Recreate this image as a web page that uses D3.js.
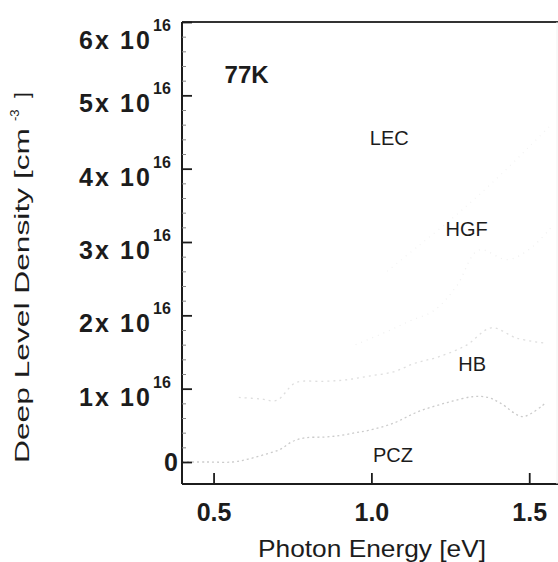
<!DOCTYPE html>
<html><head><meta charset="utf-8">
<script src="https://cdn.jsdelivr.net/npm/d3@7"></script>
<style>
body{margin:0;background:#fff}
text{font-family:"Liberation Sans",Arial,Helvetica,sans-serif;fill:#1c1c1c}
</style>
</head><body>
<svg id="chart" width="558" height="562"></svg>
<script>
// ---- data ----
const xTickValues = [0.5, 1.0, 1.5];
const xTickLabels = ["0.5", "1.0", "1.5"];
const yTickValues = [0, 1, 2, 3, 4, 5, 6];           // units of 10^16 cm^-3
const yTickMantissa = ["0", "1x 10", "2x 10", "3x 10", "4x 10", "5x 10", "6x 10"];
const yTickExponent = ["", "16", "16", "16", "16", "16", "16"];
const seriesNames = ["LEC", "HGF", "HB", "PCZ"];
const pczX = [0.40, 0.48, 0.56, 0.61, 0.66, 0.71, 0.75, 0.79, 0.85, 0.90, 0.95, 0.99, 1.07, 1.15, 1.24, 1.32, 1.37, 1.41, 1.48, 1.55];
const pczY = [0.00, 0.00, 0.00, 0.04, 0.10, 0.17, 0.28, 0.33, 0.34, 0.36, 0.40, 0.43, 0.53, 0.69, 0.81, 0.89, 0.88, 0.80, 0.62, 0.80];
const hbX = [0.58, 0.65, 0.70, 0.76, 0.85, 0.92, 0.99, 1.07, 1.14, 1.21, 1.30, 1.38, 1.46, 1.55];
const hbY = [0.88, 0.86, 0.84, 1.08, 1.10, 1.12, 1.17, 1.23, 1.35, 1.43, 1.59, 1.83, 1.69, 1.62];
const hgfX = [0.95, 1.05, 1.12, 1.20, 1.27, 1.34, 1.43, 1.50, 1.57];
const hgfY = [1.60, 1.78, 1.92, 2.07, 2.40, 2.89, 2.76, 2.90, 3.20];
const lecX = [1.05, 1.15, 1.25, 1.33, 1.42, 1.50, 1.57];
const lecY = [2.60, 2.95, 3.30, 3.60, 3.96, 4.30, 4.60];
const labelText = ["77K", "LEC", "HGF", "HB", "PCZ"];
const labelX = [0.535, 0.995, 1.235, 1.275, 1.005];
const labelY = [5.17, 4.32, 3.08, 1.24, 0.0];

// ---- layout ----
const svg = d3.select("#chart");
const x = d3.scaleLinear().domain([0.4, 1.588]).range([182, 557]);
const y = d3.scaleLinear().domain([-0.3, 6]).range([484, 22]);
const ink = "#1c1c1c";

// curves (very faint in the reference scan)
const series = [
  {name: "LEC", xs: lecX, ys: lecY, color: "#f3f3f3", dash: "1,5"},
  {name: "HGF", xs: hgfX, ys: hgfY, color: "#f0f0f0", dash: "1,5"},
  {name: "HB",  xs: hbX,  ys: hbY,  color: "#dedede", dash: "2,4"},
  {name: "PCZ", xs: pczX, ys: pczY, color: "#cbcbcb", dash: "2,3"}
];
const line = d3.line().x(d => x(d[0])).y(d => y(d[1])).curve(d3.curveCatmullRom);
series.forEach(s => {
  svg.append("path")
    .datum(s.xs.map((v, i) => [v, s.ys[i]]))
    .attr("d", line)
    .attr("fill", "none")
    .attr("stroke", s.color)
    .attr("stroke-width", 1.3)
    .attr("stroke-dasharray", s.dash);
});

// frame
svg.append("line").attr("x1", x(0.4)).attr("x2", 558).attr("y1", y(6)).attr("y2", y(6))
  .attr("stroke", "#333").attr("stroke-width", 1.8);
svg.append("line").attr("x1", x(0.4)).attr("x2", 558).attr("y1", y(-0.3)).attr("y2", y(-0.3))
  .attr("stroke", ink).attr("stroke-width", 2);
svg.append("line").attr("x1", x(0.4)).attr("x2", x(0.4)).attr("y1", y(6)).attr("y2", y(-0.3))
  .attr("stroke", ink).attr("stroke-width", 2);
svg.append("line").attr("x1", x(1.588)).attr("x2", x(1.588)).attr("y1", y(6)).attr("y2", y(-0.3))
  .attr("stroke", "#f2f2f2").attr("stroke-width", 1);

// bottom axis ticks (inward)
const xAxis = d3.axisBottom(x).tickValues(xTickValues).tickSizeInner(-11).tickSizeOuter(0)
  .tickFormat((d, i) => xTickLabels[i]).tickPadding(19);
const gx = svg.append("g").attr("transform", `translate(0,${y(-0.3)})`).call(xAxis);
gx.select(".domain").remove();
gx.selectAll(".tick line").attr("stroke", ink).attr("stroke-width", 1.8);
gx.selectAll(".tick text").attr("font-size", 25).attr("font-weight", "bold")
  .attr("fill", ink).style("font-family", "'Liberation Sans',Arial,sans-serif");

// left axis ticks (inward)
const yAxis = d3.axisLeft(y).tickValues(yTickValues).tickSizeInner(-10).tickSizeOuter(0).tickFormat("");
const gy = svg.append("g").attr("transform", `translate(${x(0.4)},0)`).call(yAxis);
gy.select(".domain").remove();
gy.selectAll(".tick line").attr("stroke", ink).attr("stroke-width", 1.8);
const minor = d3.range(0, 6, 0.2).filter(v => Math.abs(v - Math.round(v)) > 1e-6);
const gym = svg.append("g").attr("transform", `translate(${x(0.4)},0)`)
  .call(d3.axisLeft(y).tickValues(minor).tickSizeInner(-4).tickSizeOuter(0).tickFormat(""));
gym.select(".domain").remove();
gym.selectAll(".tick line").attr("stroke", "#888").attr("stroke-width", 1);

// y tick labels (mantissa x 10 with superscript exponent)
yTickValues.forEach((v, i) => {
  const yy = y(v);
  if (yTickExponent[i] === "") {
    svg.append("text").attr("x", 178).attr("y", yy + 9).attr("text-anchor", "end")
      .attr("font-size", 25).attr("font-weight", "bold").text(yTickMantissa[i]);
  } else {
    const shift = v === 6 ? 10 : 0;
    svg.append("text").attr("x", 79).attr("y", yy + 17 + shift)
      .attr("font-size", 25).attr("font-weight", "bold")
      .attr("textLength", 71).attr("lengthAdjust", "spacing").text(yTickMantissa[i]);
    svg.append("text").attr("x", 153).attr("y", yy - 1 + shift)
      .attr("font-size", 16).attr("font-weight", "bold").text(yTickExponent[i]);
  }
});

// axis titles
svg.append("text").attr("x", 258).attr("y", 557)
  .attr("font-size", 24).attr("textLength", 228).attr("lengthAdjust", "spacingAndGlyphs")
  .text("Photon Energy [eV]");
const ytg = svg.append("g").attr("transform", "translate(29,0) rotate(-90)");
ytg.append("text").attr("x", -463).attr("y", 0).attr("font-size", 21)
  .attr("textLength", 335).attr("lengthAdjust", "spacingAndGlyphs")
  .text("Deep Level Density [cm");
ytg.append("text").attr("x", -121).attr("y", -10).attr("font-size", 13).text("-3");
ytg.append("text").attr("x", -98).attr("y", 0).attr("font-size", 21).text("]");

// in-plot labels
labelText.forEach((t, i) => {
  svg.append("text").attr("x", x(labelX[i])).attr("y", y(labelY[i]))
    .attr("font-size", i === 0 ? 24 : 20)
    .attr("font-weight", i === 0 ? "bold" : "normal")
    .text(t);
});
</script>
</body></html>
